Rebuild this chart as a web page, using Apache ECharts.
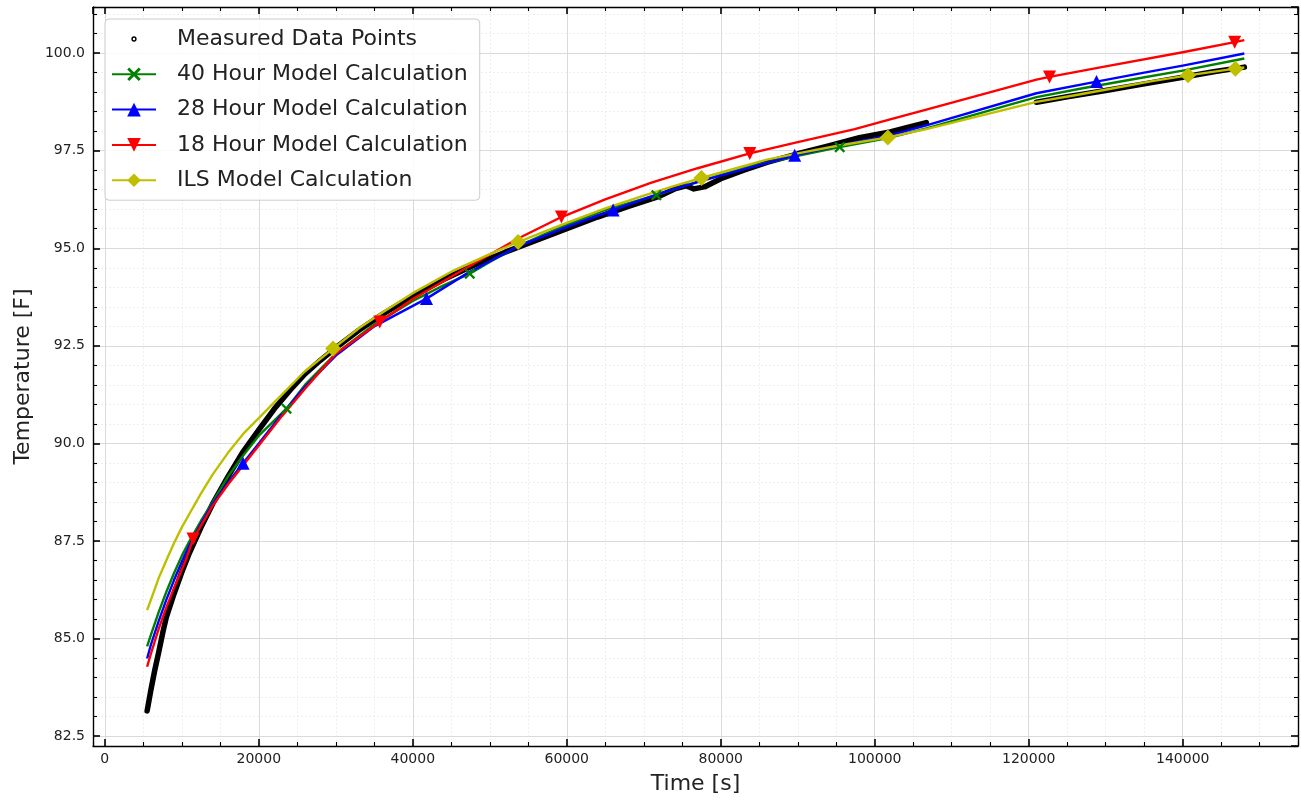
<!DOCTYPE html>
<html>
<head>
<meta charset="utf-8">
<script src="https://cdn.jsdelivr.net/npm/echarts@6/dist/echarts.min.js"></script>
<style>
html,body{margin:0;padding:0;background:#fff;}
#chart{width:1301px;height:800px;}
</style>
</head>
<body>
<div id="chart"></div>
<script>
// ---------------- data ----------------
const measuredTimeA = [5500, 6000, 6500, 7000, 7580, 8000, 9000, 10000, 11000, 12500, 14000, 16000, 18000, 20000, 22000, 24000, 26000, 28000, 30000, 33000, 36000, 40000, 44000, 48000, 52000, 56000, 60000, 64000, 68000, 72000, 74000, 75500, 76500, 78000, 80000, 83000, 86000, 90000, 94000, 98000, 102000, 104000, 106700];
const measuredTempA = [83.15, 83.7, 84.2, 84.65, 85.2, 85.55, 86.15, 86.7, 87.2, 87.85, 88.45, 89.15, 89.8, 90.35, 90.88, 91.35, 91.78, 92.13, 92.45, 92.9, 93.3, 93.78, 94.2, 94.57, 94.9, 95.2, 95.5, 95.8, 96.07, 96.33, 96.52, 96.6, 96.52, 96.58, 96.78, 97.0, 97.2, 97.42, 97.62, 97.83, 97.98, 98.08, 98.22];
const measuredTimeB = [121000, 125000, 130000, 135000, 140000, 144000, 148000];
const measuredTempB = [98.74, 98.88, 99.04, 99.21, 99.38, 99.52, 99.64];

const time40 = [5500, 6000, 7000, 8000, 9000, 10000, 11000, 12500, 14000, 16000, 18000, 20000, 23600, 26000, 30000, 35000, 40000, 44000, 47400, 50000, 53680, 57000, 60000, 65000, 71640, 77490, 84000, 90000, 95450, 101700, 106700, 121000, 127000, 133550, 140000, 148000];
const temp40 = [84.8, 85.1, 85.68, 86.2, 86.68, 87.12, 87.5, 88.02, 88.5, 89.15, 89.7, 90.2, 90.89, 91.5, 92.3, 93.05, 93.65, 94.05, 94.35, 94.65, 95.05, 95.35, 95.6, 95.98, 96.36, 96.74, 97.1, 97.37, 97.59, 97.82, 98.07, 98.87, 99.1, 99.33, 99.55, 99.86];
const marker40 = [23600, 47400, 71640, 95450];

const time28 = [5500, 6000, 7000, 8000, 9000, 10090, 11000, 12500, 14000, 16000, 17960, 20000, 23000, 26000, 30000, 35000, 41780, 47000, 53680, 60000, 66020, 72000, 78000, 84000, 89600, 97400, 101700, 106700, 121000, 128800, 135000, 140000, 148000];
const temp28 = [84.49, 84.85, 85.45, 86.0, 86.5, 87.01, 87.4, 87.95, 88.45, 89.0, 89.49, 90.0, 90.75, 91.45, 92.25, 93.0, 93.71, 94.35, 95.05, 95.55, 95.98, 96.4, 96.75, 97.08, 97.38, 97.72, 97.88, 98.15, 98.97, 99.27, 99.5, 99.68, 99.99];
const marker28 = [17960, 41780, 66020, 89600, 128800];

const time18 = [5500, 6000, 7000, 8000, 9000, 10520, 11470, 14000, 16000, 18000, 20000, 23000, 26000, 30000, 35710, 40000, 47000, 53680, 59310, 65000, 71000, 77000, 83770, 90000, 97400, 102000, 106700, 121000, 122700, 130000, 140000, 146750, 148000];
const temp18 = [84.28, 84.62, 85.25, 85.8, 86.3, 87.01, 87.55, 88.4, 88.95, 89.45, 89.95, 90.7, 91.4, 92.3, 93.11, 93.7, 94.5, 95.25, 95.8, 96.25, 96.68, 97.05, 97.43, 97.72, 98.05, 98.3, 98.55, 99.32, 99.39, 99.66, 100.02, 100.28, 100.33];
const marker18 = [11470, 35710, 59310, 83770, 122700, 146750];

const timeILS = [5500, 6000, 7000, 8000, 9000, 10000, 11000, 12500, 14000, 16000, 18000, 20000, 23000, 26000, 29650, 33000, 36000, 40000, 45000, 50000, 53680, 57000, 60000, 65000, 70000, 74000, 77490, 82000, 86000, 90000, 95000, 101700, 106700, 121000, 126000, 131000, 136000, 140690, 146840, 148000];
const tempILS = [85.73, 86.0, 86.55, 87.01, 87.45, 87.85, 88.2, 88.72, 89.2, 89.76, 90.25, 90.65, 91.25, 91.85, 92.43, 92.95, 93.35, 93.85, 94.4, 94.85, 95.16, 95.42, 95.65, 96.02, 96.35, 96.6, 96.8, 97.05, 97.27, 97.43, 97.62, 97.84, 98.05, 98.75, 98.92, 99.1, 99.28, 99.43, 99.6, 99.63];
const markerILS = [29650, 53680, 77490, 101700, 140690, 146840];

const seriesNames = ['Measured Data Points', '40 Hour Model Calculation', '28 Hour Model Calculation', '18 Hour Model Calculation', 'ILS Model Calculation'];
const xAxisName = 'Time [s]';
const yAxisName = 'Temperature [F]';
const xRange = [-1530, 154970];
const yRange = [82.25, 101.18];
const xMajorStep = 20000, xMinorStep = 5000;
const yMajorStep = 2.5, yMinorStep = 0.5;

// ---------------- styling ----------------
const FONT = 'DejaVu Sans';
const TEXT = '#222222';
const X_SYMBOL = 'path://M0,1.5L1.5,0L5,3.5L8.5,0L10,1.5L6.5,5L10,8.5L8.5,10L5,6.5L1.5,10L0,8.5L3.5,5Z';
const DOWN_TRI = 'path://M0,0L10,0L5,10Z';
const RING = 'path://M0,0M100,36M56,18A6,6,0,1,1,44,18A6,6,0,1,1,56,18ZM52.8,18A2.8,2.8,0,1,0,47.2,18A2.8,2.8,0,1,0,52.8,18Z';

function makeAxis(dim, pos, major) {
  const isX = dim === 'x';
  const range = isX ? xRange : yRange;
  const step = isX ? (major ? xMajorStep : xMinorStep) : (major ? yMajorStep : yMinorStep);
  const primary = (pos === 'bottom' || pos === 'left');
  const ax = {
    type: 'value',
    position: pos,
    min: range[0],
    max: range[1],
    minInterval: step,
    maxInterval: step,
    splitNumber: Math.round((range[1] - range[0]) / step),
    z: major ? 1 : 0,
    axisLine: { show: major, onZero: false, lineStyle: { color: '#000', width: 1.4 } },
    axisTick: { show: true, inside: true, length: major ? 7 : 4, lineStyle: { color: '#000', width: major ? 1.6 : 1.1 } },
    axisLabel: {
      show: major && primary,
      margin: isX ? 6 : 8,
      fontFamily: FONT, fontSize: 14, color: TEXT,
      showMinLabel: false, showMaxLabel: false,
      formatter: isX ? (v) => String(Math.round(v)) : (v) => v.toFixed(1)
    },
    splitLine: {
      show: primary,
      lineStyle: major ? { color: '#dadada', width: 1 } : { color: '#efefef', width: 1, type: [2, 2] }
    },
    minorTick: { show: false },
    minorSplitLine: { show: false },
    axisPointer: { show: false }
  };
  if (major && primary) {
    ax.name = isX ? xAxisName : yAxisName;
    ax.nameLocation = 'middle';
    ax.nameGap = isX ? 27 : 59;
    ax.nameTextStyle = { fontFamily: FONT, fontSize: 22, color: TEXT };
  }
  return ax;
}

function zip(ts, vs) { return ts.map((t, i) => [t, vs[i]]); }

function modelSeries(name, ts, vs, marks, color, symbol, size) {
  return {
    name: name, type: 'line', xAxisIndex: 1, yAxisIndex: 1,
    symbol: symbol, symbolSize: size, showSymbol: true,
    data: ts.map((t, i) => ({ value: [t, vs[i]], symbol: marks.indexOf(t) >= 0 ? symbol : 'none' })),
    lineStyle: { color: color, width: 2.4, join: 'round' },
    itemStyle: { color: color, borderWidth: 0 },
    emphasis: { disabled: true },
    z: 2
  };
}

const measuredData = zip(measuredTimeA, measuredTempA).concat([['-', '-']]).concat(zip(measuredTimeB, measuredTempB));

const chart = echarts.init(document.getElementById('chart'), null, { renderer: 'canvas' });
chart.setOption({
  animation: false,
  backgroundColor: '#ffffff',
  grid: { left: 93, right: 3, top: 7, bottom: 54, containLabel: false, outerBoundsMode: 'none' },
  xAxis: [makeAxis('x', 'bottom', false), makeAxis('x', 'bottom', true), makeAxis('x', 'top', false), makeAxis('x', 'top', true)],
  yAxis: [makeAxis('y', 'left', false), makeAxis('y', 'left', true), makeAxis('y', 'right', false), makeAxis('y', 'right', true)],
  legend: {
    orient: 'vertical', left: 105, top: 19,
    padding: [9, 12, 9, 6],
    backgroundColor: 'rgba(255,255,255,0.85)', borderColor: '#cccccc', borderWidth: 1, borderRadius: 4,
    itemWidth: 44, itemHeight: 17, itemGap: 13.3,
    selectedMode: false,
    textStyle: { fontFamily: FONT, fontSize: 22, color: TEXT, lineHeight: 22, padding: [0, 0, 0, 16] },
    data: [{ name: seriesNames[0], icon: RING }, seriesNames[1], seriesNames[2], seriesNames[3], seriesNames[4]]
  },
  series: [
    {
      name: seriesNames[0], type: 'line', xAxisIndex: 1, yAxisIndex: 1,
      data: measuredData, showSymbol: false, symbol: 'circle', connectNulls: false,
      lineStyle: { color: '#000', width: 5.5, cap: 'round', join: 'round' },
      itemStyle: { color: '#000' },
      emphasis: { disabled: true },
      z: 2
    },
    modelSeries(seriesNames[1], time40, temp40, marker40, '#008000', X_SYMBOL, 11),
    modelSeries(seriesNames[2], time28, temp28, marker28, '#0000ff', 'triangle', 13),
    modelSeries(seriesNames[3], time18, temp18, marker18, '#ff0000', DOWN_TRI, 13),
    modelSeries(seriesNames[4], timeILS, tempILS, markerILS, '#bfbf00', 'diamond', 16)
  ]
});
</script>
</body>
</html>
